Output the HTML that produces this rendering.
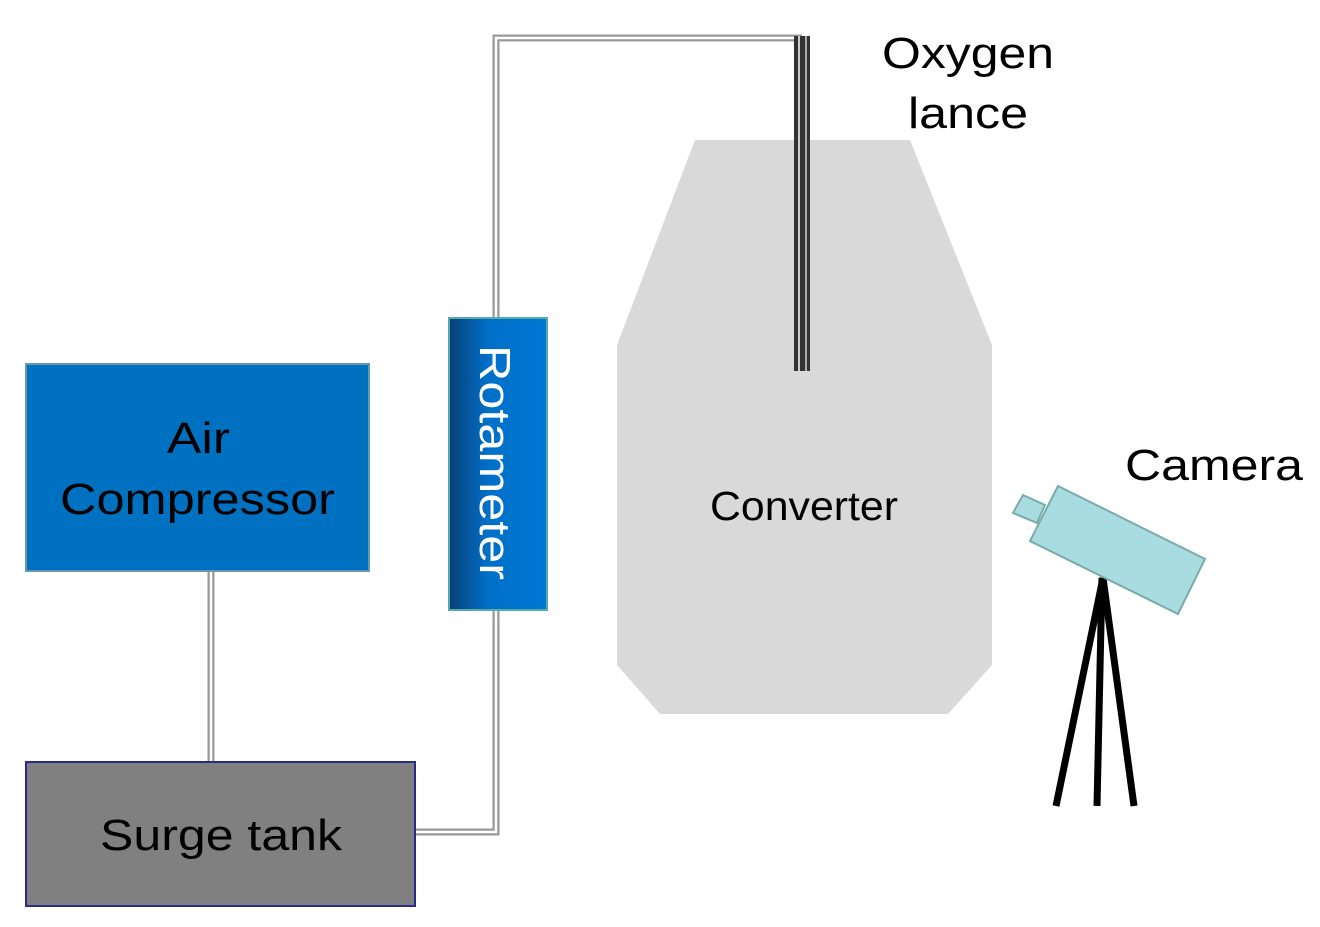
<!DOCTYPE html>
<html><head><meta charset="utf-8"><style>html,body{margin:0;padding:0;background:#fff}svg{display:block}</style></head>
<body>
<svg width="1320" height="927" viewBox="0 0 1320 927" xmlns="http://www.w3.org/2000/svg" font-family="Liberation Sans, sans-serif">
<defs>
<linearGradient id="rg" x1="0" x2="1" y1="0" y2="0">
<stop offset="0" stop-color="#0a3f78"/><stop offset="0.4" stop-color="#0070c8"/><stop offset="1" stop-color="#0078d4"/>
</linearGradient>
</defs>
<polygon points="695,140 910,140 992,345 992,665 948,714 660,714 617,665 617,345" fill="#d9d9d9"/>
<text x="710" y="520" font-size="41" textLength="188" lengthAdjust="spacingAndGlyphs" fill="#000">Converter</text>
<g fill="none" stroke="#999" stroke-width="7">
<path d="M211,571 V762"/>
<path d="M416,832 H496 V610"/>
<path d="M496,318 V38 H802"/>
</g>
<g fill="none" stroke="#fff" stroke-width="2.5">
<path d="M211,571 V762"/>
<path d="M416,832 H496 V610"/>
<path d="M496,318 V38 H800"/>
</g>
<rect x="794" y="36" width="16" height="335" fill="#333"/>
<rect x="798" y="36" width="2" height="335" fill="#ccc"/>
<rect x="805" y="36" width="2" height="335" fill="#aaa"/>
<rect x="26" y="364" width="343" height="207" fill="#0070c0" stroke="#6699aa" stroke-width="2"/>
<text x="167" y="453" font-size="44" textLength="63" lengthAdjust="spacingAndGlyphs" fill="#000">Air</text>
<text x="60" y="514" font-size="44" textLength="275" lengthAdjust="spacingAndGlyphs" fill="#000">Compressor</text>
<rect x="26" y="762" width="389" height="144" fill="#808080" stroke="#2a2a8a" stroke-width="2"/>
<text x="100" y="850" font-size="44" textLength="242" lengthAdjust="spacingAndGlyphs" fill="#000">Surge tank</text>
<rect x="449" y="318" width="98" height="292" fill="url(#rg)" stroke="#5aa" stroke-width="2"/>
<text transform="translate(480,345) rotate(90)" font-size="44" textLength="235" lengthAdjust="spacingAndGlyphs" fill="#fff">Rotameter</text>
<text x="882" y="68" font-size="44" textLength="172" lengthAdjust="spacingAndGlyphs" fill="#000">Oxygen</text>
<text x="908" y="128" font-size="44" textLength="120" lengthAdjust="spacingAndGlyphs" fill="#000">lance</text>
<text x="1125" y="480" font-size="44" textLength="178" lengthAdjust="spacingAndGlyphs" fill="#000">Camera</text>
<g stroke="#000" stroke-width="7" stroke-linecap="butt">
<line x1="1103" y1="578" x2="1056" y2="806"/>
<line x1="1102" y1="578" x2="1097" y2="806"/>
<line x1="1103" y1="578" x2="1134" y2="806"/>
</g>
<polygon points="1023,495 1045,505 1037,523 1013,513" fill="#a8dce0" stroke="#7aabab" stroke-width="2"/>
<polygon points="1058,486 1205,559 1178,614 1030,541" fill="#a8dce0" stroke="#7aabab" stroke-width="2"/>
</svg>
</body></html>
